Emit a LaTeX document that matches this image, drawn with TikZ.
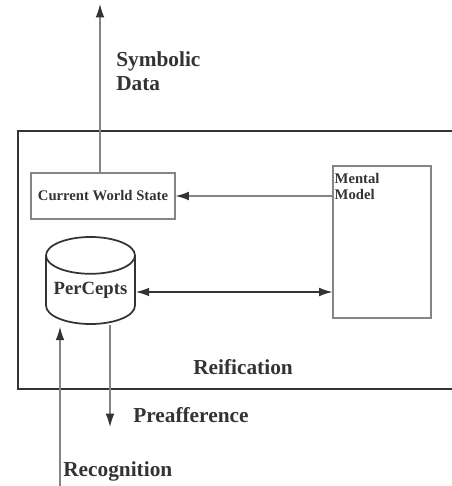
\documentclass[tikz,border=0pt]{standalone}
\usepackage{fontspec}
\setmainfont{Liberation Serif}
\usetikzlibrary{arrows.meta,shapes.geometric,calc}
\definecolor{encre}{HTML}{333333}
\definecolor{trait}{HTML}{858585}
\begin{document}
\begin{tikzpicture}[x=0.75pt,y=-0.75pt]
% Styles
\tikzstyle{fleche}=[draw=trait,line width=0.9pt,-{Latex[length=10pt,width=6.5pt,color=encre]}]
\tikzstyle{doublefleche}=[draw=encre,line width=0.9pt,{Latex[length=10pt,width=6.5pt]}-{Latex[length=10pt,width=6.5pt]}]
\tikzstyle{cadre}=[draw=encre,line width=1.6pt]
\tikzstyle{boite}=[draw=trait,line width=0.8pt,rectangle,inner sep=0pt]
\tikzstyle{base}=[draw=encre,line width=1.3pt,cylinder,shape border rotate=90,aspect=0.5,inner sep=0pt,minimum width=66.75pt,minimum height=65.25pt]
\tikzstyle{etiquette}=[text=encre,font=\bfseries\fontsize{16}{18}\selectfont,align=left,inner sep=0pt]
\tikzstyle{petit}=[text=encre,font=\bfseries\fontsize{11}{12}\selectfont,align=left,inner sep=0pt]
% Dimensions
\useasboundingbox (0,0) rectangle (451,486);
% Cadre
\draw[cadre] (452,131) -- (18,131) -- (18,389) -- (452,389);
% Noeuds
\node[boite,minimum width=108pt,minimum height=34.5pt,petit] (etat) at (103,196) {Current World State};
\node[boite,minimum width=73.5pt,minimum height=114pt] (mental) at (382,242) {};
\node[petit,anchor=north west] (mentaltxt) at ($(mental.north west)+(2,8)$) {Mental\\Model};
\node[base,anchor=shape center,font=\bfseries\fontsize{14}{16}\selectfont,text=encre] (percepts) at (90.5,280.5) {PerCepts};
\coordinate (haut) at (100,4);
\coordinate (pre) at (110,427);
\coordinate (reco) at (60,486);
% Etiquettes
\node[etiquette,anchor=north west] (symb) at (116,51) {Symbolic\\Data};
\node[etiquette,anchor=base west] (reif) at (193,374) {Reification};
\node[etiquette,anchor=base west] (preaff) at (133,422) {Preafference};
\node[etiquette,anchor=base west] (recog) at (63,476) {Recognition};
% Arcs
\draw[fleche] (haut |- etat.north) -- (haut);
\draw[fleche] (mental.west |- etat.east) -- (etat.east);
\draw[doublefleche] (percepts.east |- 0,292) -- (mental.west |- 0,292);
\draw[fleche] (pre |- percepts.south) -- (pre);
\draw[fleche] (reco) -- ($(reco |- percepts.south)+(0,2)$);
\end{tikzpicture}
\end{document}
